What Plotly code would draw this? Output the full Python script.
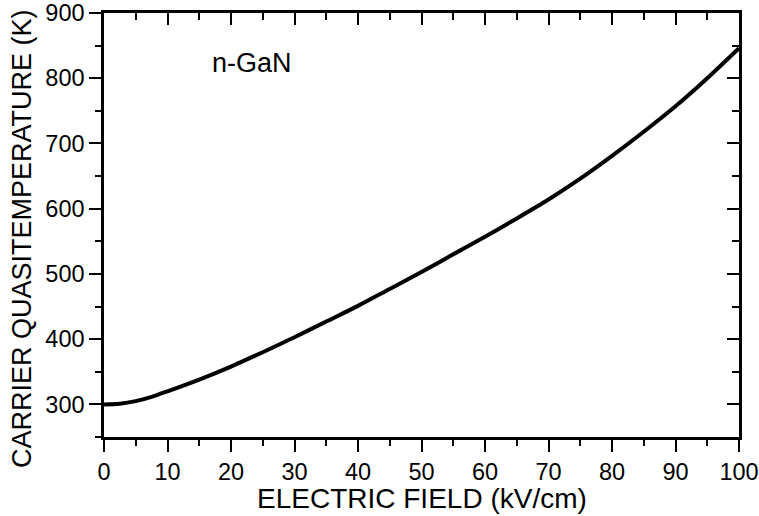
import plotly.graph_objects as go

field = [0, 2.5, 5, 7.5, 10, 15, 20, 25, 30, 35, 40, 45, 50, 55, 60, 65, 70, 75, 80, 85, 90, 95, 100]
temp = [300, 301, 305, 311.5, 320, 338, 358, 380, 403, 427, 451, 477, 503, 530, 557, 585, 614, 646, 681, 718, 757, 800, 846]

x_ticks = [0, 10, 20, 30, 40, 50, 60, 70, 80, 90, 100]
y_ticks = [300, 400, 500, 600, 700, 800, 900]

FONT = "Liberation Sans, Arial, sans-serif"

fig = go.Figure()
fig.add_trace(go.Scatter(x=field, y=temp, mode="lines",
                         line=dict(color="black", width=4, shape="spline", smoothing=0.8),
                         showlegend=False, hoverinfo="skip"))
fig.add_trace(go.Scatter(x=field, y=temp, xaxis="x2", yaxis="y2", mode="lines", opacity=0,
                         showlegend=False, hoverinfo="skip"))

common = dict(showgrid=False, zeroline=False, showline=True, linecolor="black", linewidth=2.5,
              tickcolor="black", tickwidth=2, ticklen=12, automargin=False,
              ticklabeloverflow="allow",
              tickfont=dict(family=FONT, size=23.5, color="black"))

fig.update_layout(
    width=759, height=516,
    margin=dict(l=104, r=20, t=13, b=79, autoexpand=False),
    paper_bgcolor="white", plot_bgcolor="white",
    xaxis=dict(range=[0, 100], tickvals=x_ticks, ticks="outside",
               minor=dict(dtick=5, ticks="outside", ticklen=6, tickwidth=2, tickcolor="black"),
               **common),
    yaxis=dict(range=[250, 900], tickvals=y_ticks, ticks="outside",
               minor=dict(dtick=50, ticks="outside", ticklen=6, tickwidth=2, tickcolor="black"),
               **common),
    xaxis2=dict(range=[0, 100], overlaying="x", side="top", tickvals=x_ticks, ticks="inside",
                showticklabels=False,
                minor=dict(dtick=5, ticks="inside", ticklen=7, tickwidth=2, tickcolor="black"),
                **common),
    yaxis2=dict(range=[250, 900], overlaying="y", side="right", tickvals=y_ticks, ticks="inside",
                showticklabels=False,
                minor=dict(dtick=50, ticks="inside", ticklen=7, tickwidth=2, tickcolor="black"),
                **common),
    annotations=[
        dict(x=16.7, y=823, xref="x", yref="y", text="n-GaN", showarrow=False,
             xanchor="left", yanchor="middle",
             font=dict(family=FONT, size=27, color="black")),
        dict(x=0.5, y=-0.146, xref="paper", yref="paper", text="ELECTRIC FIELD (kV/cm)",
             showarrow=False, xanchor="center", yanchor="middle",
             font=dict(family=FONT, size=28, color="black")),
        dict(x=-0.129, y=0.467, xref="paper", yref="paper", text="CARRIER QUASITEMPERATURE (K)",
             showarrow=False, xanchor="center", yanchor="middle", textangle=-90,
             font=dict(family=FONT, size=27, color="black")),
    ],
)

fig.write_html("out.html", config={"displayModeBar": False},
               post_script="document.body.style.margin='0';")
